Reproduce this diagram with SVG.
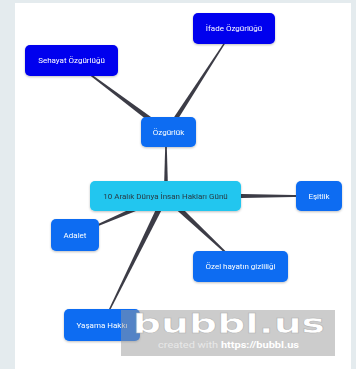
<svg xmlns="http://www.w3.org/2000/svg" width="356" height="369" viewBox="0 0 356 369">
<style>
.node rect{stroke:none}
.blue{fill:#0000ee}
.mid{fill:#0a6cf2}
.cen{fill:#20c6ef;stroke:#5fd8f5;stroke-width:0.8}
.t{font-family:Roboto,"Liberation Sans",sans-serif;font-size:8px;fill:#ffffff;text-anchor:middle;dominant-baseline:central}
.tc{font-family:Roboto,"Liberation Sans",sans-serif;font-size:8px;fill:#2a3a44;text-anchor:middle;dominant-baseline:central}
.wedge{fill:#3c3c46}
</style>
<defs>
<filter id="sh" x="-20%" y="-20%" width="140%" height="150%">
<feDropShadow dx="0" dy="1" stdDeviation="1" flood-color="#000" flood-opacity="0.25"/>
</filter>
</defs>
<rect x="0" y="0" width="356" height="369" fill="#e4ebee"/>
<rect x="15" y="3" width="336" height="366" fill="#ffffff"/>
<g id="connectors">
<polygon class="wedge" points="168.5,129.5 71.74,60.18 71.26,60.82 165.5,134.5"/>
<polygon class="wedge" points="169.1,133.3 234.34,28.71 233.66,28.29 164.9,130.7"/>
<polygon class="wedge" points="168.2,196 166.4,132 165.6,132 163.8,196"/>
<polygon class="wedge" points="165.5,192.5 319,195.6 319,196.4 165.5,199.5"/>
<polygon class="wedge" points="164.31,193.24 74.84,234.63 75.16,235.37 166.69,198.76"/>
<polygon class="wedge" points="163.45,198.19 240.23,266.79 240.77,266.21 167.55,193.81"/>
<polygon class="wedge" points="162.81,194.67 101.64,324.82 102.36,325.18 168.19,197.33"/>
</g>
<g id="n-ifade" class="node" filter="url(#sh)">
<rect class="blue" x="193" y="13" width="82" height="31" rx="5"/>
<text class="t" x="234" y="28.5">İfade Özgürlüğü</text>
</g>
<g id="n-sehayat" class="node" filter="url(#sh)">
<rect class="blue" x="25" y="45" width="93" height="31" rx="5"/>
<text class="t" x="71.5" y="60.5">Sehayat Özgürlüğü</text>
</g>
<g id="n-ozgurluk" class="node" filter="url(#sh)">
<rect class="mid" x="141" y="117" width="55" height="30" rx="5"/>
<text class="t" x="168.5" y="132">Özgürlük</text>
</g>
<g id="n-central" class="node" filter="url(#sh)">
<rect class="cen" x="90" y="181" width="151" height="30" rx="5"/>
<text class="tc" x="165.5" y="196">10 Aralık Dünya İnsan Hakları Günü</text>
</g>
<g id="n-esitlik" class="node" filter="url(#sh)">
<rect class="mid" x="296" y="181" width="46" height="30" rx="5"/>
<text class="t" x="319" y="196">Eşitlik</text>
</g>
<g id="n-adalet" class="node" filter="url(#sh)">
<rect class="mid" x="51" y="219" width="48" height="32" rx="5"/>
<text class="t" x="75" y="235">Adalet</text>
</g>
<g id="n-ozel" class="node" filter="url(#sh)">
<rect class="mid" x="193" y="251" width="95" height="31" rx="5"/>
<text class="t" x="240.5" y="266.5">Özel hayatın gizliliği</text>
</g>
<g id="n-yasama" class="node" filter="url(#sh)">
<rect class="mid" x="64" y="309" width="76" height="32" rx="5"/>
<text class="t" x="102" y="325">Yaşama Hakkı</text>
</g>
<g id="watermark">
<rect x="121" y="310" width="214" height="46" fill="#9a9a9a" fill-opacity="0.5"/>
<text x="133" y="333" font-family="'DejaVu Sans','Liberation Sans',sans-serif" font-weight="bold" font-size="27" fill="#ffffff" stroke="#b0b0b0" stroke-width="0.5" textLength="192" lengthAdjust="spacingAndGlyphs">bubbl.us</text>
<text x="158" y="348" font-family="Roboto,'Liberation Sans',sans-serif" font-size="9.5" fill="#e8e8e8" textLength="141" lengthAdjust="spacingAndGlyphs">created with <tspan fill="#ffffff" font-weight="bold">https://bubbl.us</tspan></text>
</g>
</svg>
